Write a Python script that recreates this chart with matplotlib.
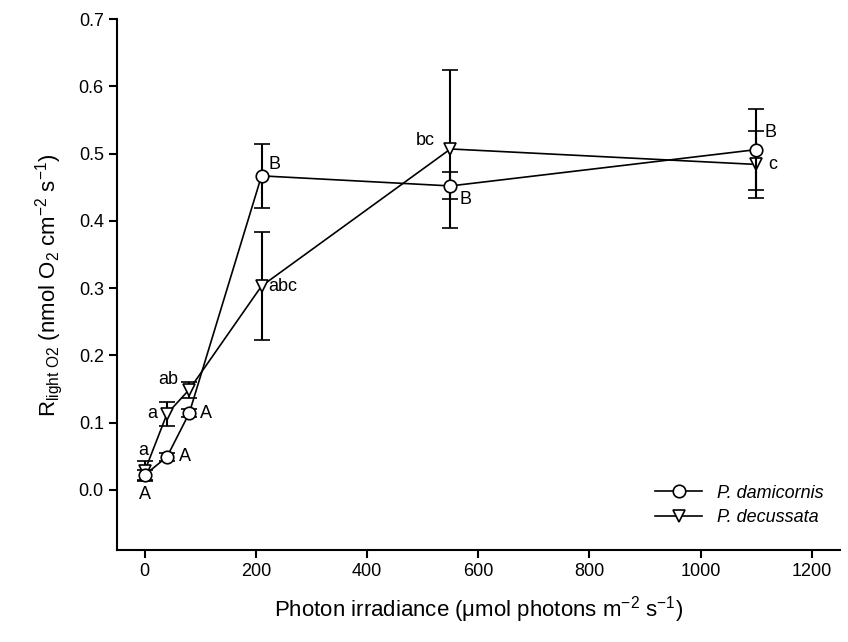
import matplotlib.pyplot as plt
from matplotlib.lines import Line2D
import numpy as np

plt.rcParams['font.family'] = ['Liberation Sans', 'DejaVu Sans']
plt.rcParams['mathtext.fontset'] = 'custom'
plt.rcParams['mathtext.rm'] = 'Liberation Sans'
plt.rcParams['mathtext.it'] = 'Liberation Sans:italic'

# P. damicornis
dam_x = [0, 40, 80, 210, 550, 1100]
dam_y = [0.022, 0.049, 0.114, 0.467, 0.452, 0.506]
dam_err = [0.008, 0.006, 0.006, 0.048, 0.02, 0.06]
dam_lab = ['A', 'A', 'A', 'B', 'B', 'B']

# P. decussata
dec_x = [0, 40, 80, 210, 550, 1100]
dec_y = [0.028, 0.113, 0.149, 0.303, 0.507, 0.484]
dec_err = [0.015, 0.018, 0.012, 0.08, 0.118, 0.05]
dec_lab = ['a', 'a', 'ab', 'abc', 'bc', 'c']

fig = plt.figure(figsize=(8.48, 6.42), dpi=100)
ax = fig.add_axes([0.138, 0.143, 0.852, 0.827])

style = dict(fmt='-', color='black', lw=1.2, elinewidth=1.5, capsize=6,
             capthick=1.5, ms=9, mfc='white', mec='black', mew=1.2)
ax.errorbar(dec_x, dec_y, yerr=dec_err, marker='v', zorder=2, **style)
ax.errorbar(dam_x, dam_y, yerr=dam_err, marker='o', zorder=3, **style)

# letter annotations (offsets in points)
dam_off = [(0, -14), (13, 0), (12, 0), (9, 8), (11, -10), (10, 12)]
dec_off = [(-1, 15), (-11, 0), (-15, 7), (5, 0), (-18, 6), (12, 0)]
for i in range(len(dam_x)):
	ax.annotate(dam_lab[i], (dam_x[i], dam_y[i]), xytext=dam_off[i],
	            textcoords='offset points', ha='center', va='center', fontsize=13)
for i in range(len(dec_x)):
	ha = 'left' if dec_lab[i] == 'abc' else 'center'
	ax.annotate(dec_lab[i], (dec_x[i], dec_y[i]), xytext=dec_off[i],
	            textcoords='offset points', ha=ha, va='center', fontsize=13)

ax.set_xlim(-50, 1250)
ax.set_ylim(-0.09, 0.7)
ax.set_xticks(np.arange(0, 1201, 200))
ax.set_yticks(np.arange(0, 0.71, 0.1))
ax.set_yticklabels(['%.1f' % v for v in np.arange(0, 0.71, 0.1)])
ax.spines['top'].set_visible(False)
ax.spines['right'].set_visible(False)
ax.spines['left'].set_linewidth(1.5)
ax.spines['bottom'].set_linewidth(1.5)
ax.tick_params(direction='out', length=6, width=1.5, labelsize=13)

ax.set_xlabel('Photon irradiance (\u03bcmol photons m$^{\\mathregular{-2}}$ s$^{\\mathregular{-1}}$)',
              fontsize=16, labelpad=10)
ax.set_ylabel('R$_{\\mathregular{light\\ O2}}$ (nmol O$_{\\mathregular{2}}$ cm$^{\\mathregular{-2}}$ s$^{\\mathregular{-1}}$)',
              fontsize=16, labelpad=10)

h1 = Line2D([], [], color='black', lw=1.2, marker='o', ms=9, mfc='white', mec='black', mew=1.2)
h2 = Line2D([], [], color='black', lw=1.2, marker='v', ms=9, mfc='white', mec='black', mew=1.2)
leg = ax.legend([h1, h2], ['P. damicornis', 'P. decussata'], loc='lower right',
                frameon=False, fontsize=13, handlelength=2.6,
                bbox_to_anchor=(1.0, 0.015), labelspacing=0.4)
for t in leg.get_texts():
	t.set_style('italic')

fig.savefig('out.png', dpi=100)
